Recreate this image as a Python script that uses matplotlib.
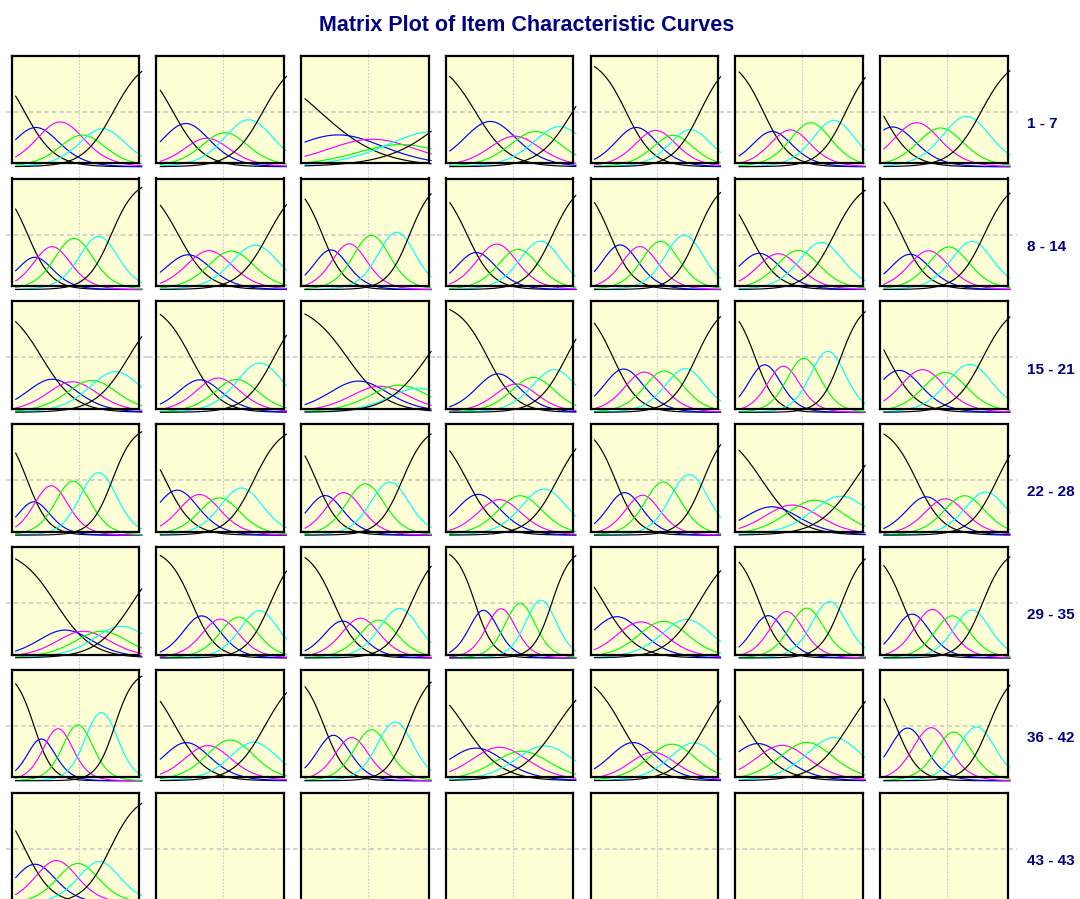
import numpy as np
import matplotlib.pyplot as plt

# graded response model parameters (items 1..43)
item_a = [1.38, 1.36, 0.68, 1.24, 1.54, 1.58, 1.40,
          1.75, 1.39, 1.86, 1.61, 1.79, 1.50, 1.60,
          1.24, 1.43, 1.06, 1.46, 1.63, 2.03, 1.46,
          1.95, 1.55, 1.77, 1.44, 1.85, 1.12, 1.56,
          1.15, 1.73, 1.70, 2.26, 1.28, 1.95, 1.85,
          2.28, 1.35, 1.95, 1.11, 1.34, 1.19, 1.86,
          1.54]
thr1 = [-2.58, -2.40, -2.30, -1.78, -1.50, -1.85, -3.12,
        -2.43, -2.15, -2.18, -2.18, -2.26, -2.50, -2.16,
        -1.76, -1.55, -1.00, -1.20, -2.12, -2.24, -2.82,
        -2.45, -2.76, -2.47, -2.18, -2.00, -1.92, -1.45,
        -1.10, -1.50, -1.63, -1.80, -2.55, -2.03, -2.11,
        -2.13, -2.30, -2.10, -2.30, -1.70, -2.70, -2.43,
        -2.57]
thr2 = [-1.50, -1.18, -0.55, -0.37, -0.53, -1.01, -2.04,
        -1.74, -1.21, -1.37, -1.31, -1.30, -1.59, -1.33,
        -0.76, -0.70, 0.10, -0.20, -1.10, -1.33, -1.72,
        -1.81, -1.64, -1.62, -1.10, -1.12, -0.98, -0.52,
        -0.20, -0.57, -0.81, -0.98, -1.32, -1.20, -1.20,
        -1.43, -1.23, -1.20, -1.20, -0.62, -1.52, -1.31,
        -1.60]
thr3 = [-0.25, -0.40, 0.95, 0.55, 0.36, -0.13, -0.83,
        -0.80, -0.15, -0.42, -0.22, -0.38, -0.69, -0.41,
        0.16, 0.20, 1.01, 0.52, -0.16, -0.45, -0.60,
        -0.82, -0.64, -0.70, -0.17, -0.30, 0.02, 0.36,
        0.66, 0.28, 0.08, -0.13, -0.26, -0.28, -0.18,
        -0.53, -0.25, -0.35, -0.07, 0.17, -0.40, -0.18,
        -0.53]
thr4 = [0.61, 0.54, 2.15, 1.62, 1.12, 0.94, 0.22,
        0.35, 0.90, 0.74, 0.73, 0.67, 0.30, 0.61,
        1.12, 1.06, 1.96, 1.42, 0.81, 0.61, 0.44,
        0.28, 0.27, 0.44, 0.87, 0.84, 1.19, 1.32,
        1.52, 1.18, 0.92, 0.83, 0.82, 0.72, 0.69,
        0.45, 0.90, 0.68, 0.92, 1.20, 0.82, 0.84,
        0.46]
thr5 = [1.65, 1.88, 4.10, 2.85, 2.03, 2.08, 1.63,
        1.55, 2.13, 1.98, 1.90, 1.88, 1.52, 1.78,
        2.37, 2.41, 2.80, 2.54, 1.84, 1.84, 1.72,
        1.60, 1.45, 1.63, 2.11, 2.18, 2.51, 2.38,
        2.55, 2.24, 2.06, 1.86, 1.96, 1.88, 1.70,
        1.72, 1.98, 1.90, 2.10, 2.27, 2.21, 1.99,
        1.50]
row_labels = ["1 - 7", "8 - 14", "15 - 21", "22 - 28", "29 - 35", "36 - 42", "43 - 43"]
cat_colors = ["black", "#0000ff", "#ff00ff", "#00ff00", "#00ffff", "black"]

theta = np.linspace(-3, 3, 121)


def grm_curves(a, bs):
    cum = [np.ones_like(theta)]
    for b in bs:
        cum.append(1.0 / (1.0 + np.exp(-a * (theta - b))))
    cum.append(np.zeros_like(theta))
    return [cum[k] - cum[k + 1] for k in range(len(bs) + 1)]


W, H = 1080, 899
fig = plt.figure(figsize=(W / 100, H / 100), dpi=100)
fig.patch.set_facecolor("white")

# layout in pixels
left0, col_step, fw = 11.7, 144.7, 127.6
top0, row_step, fh = 55.7, 122.8, 107.6
hgap = (col_step - fw) / 2
vgap = (row_step - fh) / 2
font_fam = ["Liberation Sans", "DejaVu Sans"]
grid_col = "#c8c8c8"

for r in range(7):
    for c in range(7):
        x0 = left0 + c * col_step
        y0 = top0 + r * row_step
        ax = fig.add_axes([x0 / W, 1 - (y0 + fh) / H, fw / W, fh / H])
        ax.set_facecolor("#ffffd6")
        ax.set_xlim(-3.19, 2.886)
        ax.set_ylim(0.031, 1.009)
        ax.set_xticks([])
        ax.set_yticks([])
        for s in ax.spines.values():
            s.set_linewidth(1.6)
            s.set_color("black")

        # reference lines that run across the whole matrix
        hx0 = (6 - x0) / fw if c == 0 else -hgap / fw
        hx1 = (1017 - x0) / fw if c == 6 else 1 + hgap / fw
        ax.plot([hx0, hx1], [0.5, 0.5], transform=ax.get_yaxis_transform(),
                color=grid_col, lw=1.1, ls=(0, (3, 2)), clip_on=False, zorder=1)
        vy1 = 1 + (y0 - 50) / fh if r == 0 else 1 + vgap / fh
        ax.plot([0, 0], [-vgap / fh, vy1], transform=ax.get_xaxis_transform(),
                color=grid_col, lw=0.8, ls=(0, (1.5, 1.5)), clip_on=False, zorder=1)

        i = r * 7 + c
        if i < len(item_a):
            bs = [thr1[i], thr2[i], thr3[i], thr4[i], thr5[i]]
            for k, p in enumerate(grm_curves(item_a[i], bs)):
                ax.plot(theta, p, color=cat_colors[k], lw=0.85,
                        clip_on=False, zorder=2 + k * 0.1)

    fig.text(1027 / W, 1 - (124 + r * row_step) / H, row_labels[r],
             ha="left", va="center", fontsize=11, fontweight="bold",
             color="#000080", family=font_fam)

fig.text(527 / W, 1 - 25.5 / H, "Matrix Plot of Item Characteristic Curves",
         ha="center", va="center", fontsize=15.5, fontweight="bold",
         color="#000080", family=font_fam)

fig.savefig("out.png", dpi=100)
